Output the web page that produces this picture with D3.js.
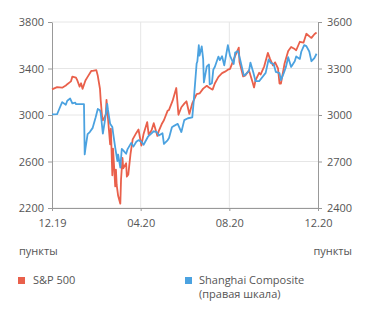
<!DOCTYPE html>
<html>
<head>
<meta charset="utf-8">
<script src="https://cdn.jsdelivr.net/npm/d3@7"></script>
<style>
  body { margin: 0; background: #fff; }
  text { font-family: "Open Sans", sans-serif; fill: #555; }
</style>
</head>
<body>
<div id="chart"></div>
<script>
// S&P 500 (left scale)
const spxDates = ['2019-12-20','2019-12-27','2020-01-03','2020-01-08','2020-01-10','2020-01-15','2020-01-17','2020-01-22','2020-01-24','2020-01-27','2020-01-29','2020-01-31','2020-02-04','2020-02-07','2020-02-12','2020-02-14','2020-02-19','2020-02-21','2020-02-24','2020-02-25','2020-02-27','2020-02-28','2020-03-03','2020-03-04','2020-03-06','2020-03-09','2020-03-10','2020-03-12','2020-03-13','2020-03-16','2020-03-17','2020-03-18','2020-03-20','2020-03-23','2020-03-24','2020-03-26','2020-03-27','2020-03-31','2020-04-01','2020-04-03','2020-04-06','2020-04-09','2020-04-14','2020-04-17','2020-04-21','2020-04-24','2020-04-29','2020-05-01','2020-05-05','2020-05-08','2020-05-13','2020-05-15','2020-05-19','2020-05-22','2020-05-27','2020-05-29','2020-06-03','2020-06-08','2020-06-11','2020-06-15','2020-06-19','2020-06-22','2020-06-26','2020-06-30','2020-07-06','2020-07-10','2020-07-15','2020-07-20','2020-07-23','2020-07-28','2020-07-31','2020-08-05','2020-08-10','2020-08-14','2020-08-18','2020-08-21','2020-08-26','2020-08-28','2020-09-02','2020-09-03','2020-09-08','2020-09-11','2020-09-16','2020-09-21','2020-09-23','2020-09-25','2020-09-30','2020-10-02','2020-10-07','2020-10-12','2020-10-15','2020-10-19','2020-10-22','2020-10-26','2020-10-28','2020-10-30','2020-11-04','2020-11-09','2020-11-13','2020-11-18','2020-11-20','2020-11-25','2020-11-30','2020-12-04','2020-12-09','2020-12-11','2020-12-15','2020-12-18'];
const spxValues = [3221,3240,3235,3253,3265,3289,3330,3321,3295,3244,3273,3225,3297,3328,3379,3380,3386,3337,3226,3128,2979,2954,3003,3130,2972,2747,2882,2481,2711,2386,2529,2398,2305,2237,2447,2630,2541,2585,2470,2489,2664,2790,2846,2875,2737,2837,2939,2831,2868,2930,2820,2864,2922,2955,3036,3044,3123,3232,3002,3067,3098,3118,3009,3100,3179,3185,3227,3251,3236,3218,3271,3328,3360,3373,3390,3397,3478,3508,3580,3455,3332,3341,3385,3281,3237,3298,3363,3348,3419,3534,3483,3427,3453,3400,3271,3270,3443,3550,3585,3567,3557,3630,3622,3699,3672,3663,3695,3709];

// Shanghai Composite (right scale)
const shcDates = ['2019-12-20','2019-12-27','2019-12-31','2020-01-03','2020-01-08','2020-01-10','2020-01-14','2020-01-17','2020-01-21','2020-01-22','2020-02-02','2020-02-03','2020-02-04','2020-02-07','2020-02-10','2020-02-14','2020-02-18','2020-02-21','2020-02-24','2020-02-25','2020-02-28','2020-03-02','2020-03-05','2020-03-06','2020-03-09','2020-03-12','2020-03-13','2020-03-16','2020-03-19','2020-03-20','2020-03-23','2020-03-25','2020-03-27','2020-03-31','2020-04-02','2020-04-07','2020-04-10','2020-04-14','2020-04-17','2020-04-21','2020-04-24','2020-04-30','2020-05-08','2020-05-12','2020-05-15','2020-05-20','2020-05-22','2020-05-27','2020-05-29','2020-06-02','2020-06-05','2020-06-10','2020-06-15','2020-06-19','2020-06-24','2020-06-30','2020-07-02','2020-07-03','2020-07-06','2020-07-07','2020-07-09','2020-07-10','2020-07-13','2020-07-15','2020-07-16','2020-07-20','2020-07-23','2020-07-24','2020-07-27','2020-07-29','2020-07-31','2020-08-05','2020-08-07','2020-08-10','2020-08-13','2020-08-18','2020-08-21','2020-08-26','2020-08-28','2020-09-01','2020-09-04','2020-09-09','2020-09-11','2020-09-16','2020-09-18','2020-09-22','2020-09-25','2020-09-30','2020-10-09','2020-10-13','2020-10-16','2020-10-20','2020-10-23','2020-10-28','2020-10-30','2020-11-03','2020-11-06','2020-11-09','2020-11-13','2020-11-18','2020-11-20','2020-11-25','2020-11-27','2020-12-01','2020-12-04','2020-12-08','2020-12-11','2020-12-15','2020-12-18'];
const shcValues = [3004,3005,3050,3083,3066,3092,3106,3075,3080,3070,3070,2746,2783,2876,2890,2917,2984,3039,3031,3013,2880,2970,3071,3034,2943,2923,2887,2789,2702,2745,2660,2781,2772,2750,2780,2820,2796,2827,2838,2827,2808,2860,2895,2891,2868,2883,2813,2837,2852,2921,2930,2943,2890,2967,2979,2985,3090,3152,3332,3345,3450,3383,3443,3361,3210,3314,3326,3197,3205,3294,3310,3377,3354,3379,3320,3451,3381,3329,3403,3412,3355,3254,3260,3283,3338,3274,3219,3218,3272,3359,3336,3329,3278,3270,3225,3272,3312,3373,3310,3347,3378,3362,3408,3451,3444,3410,3347,3367,3395];

const leftTicks = [2200, 2600, 3000, 3400, 3800];
const rightTicks = [2400, 2700, 3000, 3300, 3600];
const xTickDates = ['2019-12-20','2020-04-20','2020-08-20','2020-12-20'];

const red = '#e9604b', blue = '#4ba2e0';

const svgwidth = 371, svgheight = 316;
const margin = { top: 22, bottom: 108, left: 52, right: 53 };
const width = svgwidth - margin.left - margin.right;
const height = svgheight - margin.top - margin.bottom;

const parse = d3.timeParse('%Y-%m-%d');

const svg = d3.select('#chart').append('svg')
    .attr('width', svgwidth).attr('height', svgheight);

const chartGroup = svg.append('g')
    .attr('transform', `translate(${margin.left},${margin.top})`);

const x = d3.scaleTime()
    .domain([parse('2019-12-20'), parse('2020-12-20')])
    .range([0, width]);
const yLeft = d3.scaleLinear().domain([2200, 3800]).range([height, 0]);
const yRight = d3.scaleLinear().domain([2400, 3600]).range([height, 0]);

// grid
chartGroup.selectAll('.hgrid').data(leftTicks).enter()
    .append('line')
    .attr('x1', 0).attr('x2', width)
    .attr('y1', d => yLeft(d)).attr('y2', d => yLeft(d))
    .attr('stroke', '#e6e6e6').attr('stroke-width', 1);
chartGroup.selectAll('.vgrid').data(xTickDates.slice(1, 3)).enter()
    .append('line')
    .attr('x1', d => x(parse(d))).attr('x2', d => x(parse(d)))
    .attr('y1', 0).attr('y2', height)
    .attr('stroke', '#e6e6e6').attr('stroke-width', 1);

// axes
const xAxis = d3.axisBottom(x)
    .tickValues(xTickDates.map(parse))
    .tickFormat(d3.timeFormat('%m.%y'))
    .tickSize(3).tickPadding(8);
const leftAxis = d3.axisLeft(yLeft).tickValues(leftTicks)
    .tickFormat(d3.format('d')).tickSize(4).tickPadding(4);
const rightAxis = d3.axisRight(yRight).tickValues(rightTicks)
    .tickFormat(d3.format('d')).tickSize(4).tickPadding(5);

function styleAxis(g) {
    g.select('.domain').attr('stroke', '#999');
    g.selectAll('.tick line').attr('stroke', '#999');
    g.selectAll('.tick text')
        .attr('fill', '#555')
        .style('font-family', '"Open Sans", sans-serif')
        .style('font-size', '11px');
}

chartGroup.append('g').attr('transform', `translate(0,${height})`)
    .call(xAxis.tickSizeOuter(0)).call(styleAxis);
chartGroup.append('g').call(leftAxis.tickSizeOuter(0)).call(styleAxis);
chartGroup.append('g').attr('transform', `translate(${width},0)`)
    .call(rightAxis.tickSizeOuter(0)).call(styleAxis);

// lines
const spx = spxDates.map((d, i) => ({ date: parse(d), value: spxValues[i] }));
const shc = shcDates.map((d, i) => ({ date: parse(d), value: shcValues[i] }));

chartGroup.append('path').datum(spx)
    .attr('fill', 'none').attr('stroke', red).attr('stroke-width', 1.8)
    .attr('stroke-linejoin', 'round')
    .attr('d', d3.line().x(d => x(d.date)).y(d => yLeft(d.value)));

chartGroup.append('path').datum(shc)
    .attr('fill', 'none').attr('stroke', blue).attr('stroke-width', 1.8)
    .attr('stroke-linejoin', 'round')
    .attr('d', d3.line().x(d => x(d.date)).y(d => yRight(d.value)));

// unit labels
svg.append('text').attr('x', 19).attr('y', 255)
    .style('font-size', '11px').text('пункты');
svg.append('text').attr('x', 352).attr('y', 255)
    .attr('text-anchor', 'end')
    .style('font-size', '11px').text('пункты');

// legend
svg.append('rect').attr('x', 18).attr('y', 277).attr('width', 7).attr('height', 7).attr('fill', red);
svg.append('text').attr('x', 33).attr('y', 284).style('font-size', '11px').text('S&P 500');
svg.append('rect').attr('x', 185).attr('y', 277).attr('width', 7).attr('height', 7).attr('fill', blue);
svg.append('text').attr('x', 199).attr('y', 284).style('font-size', '11px').text('Shanghai Composite');
svg.append('text').attr('x', 199).attr('y', 298).style('font-size', '11px').text('(правая шкала)');
</script>
</body>
</html>
